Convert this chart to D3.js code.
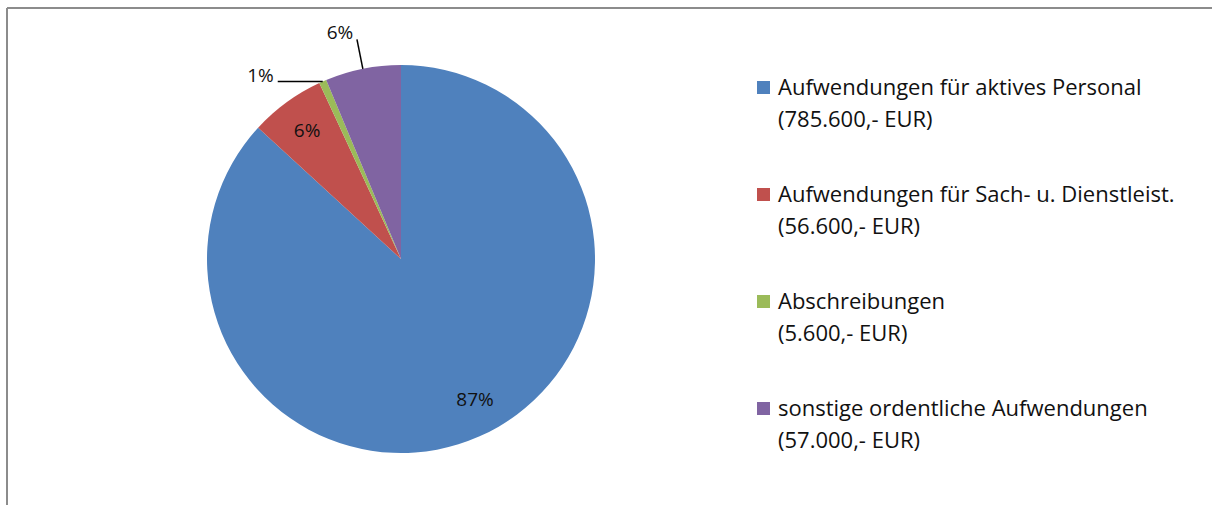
<!DOCTYPE html>
<html>
<head>
<meta charset="utf-8">
<script src="https://cdn.jsdelivr.net/npm/d3@7"></script>
<style>
  body { margin: 0; background: #fff; }
  text { font-family: "Open Sans", sans-serif; fill: #111; }
</style>
</head>
<body>
<svg id="chart" width="1212" height="505"></svg>
<script>
// data
var categories = [
    "Aufwendungen für aktives Personal",
    "Aufwendungen für Sach- u. Dienstleist.",
    "Abschreibungen",
    "sonstige ordentliche Aufwendungen"
];
var amounts = [785600, 56600, 5600, 57000];
var colours = ["#4F81BD", "#C0504D", "#9BBB59", "#8064A2"];

// how excel put each percentage label
var labelPlacement = ["inside", "inside", "flat", "outside"];

var svg = d3.select("#chart");

// chart frame (only top and left edges are visible)
svg.append("line").attr("x1", 7).attr("y1", 8).attr("x2", 1212).attr("y2", 8)
    .attr("stroke", "#8c8c8c").attr("stroke-width", 2);
svg.append("line").attr("x1", 7).attr("y1", 8).attr("x2", 7).attr("y2", 505)
    .attr("stroke", "#8c8c8c").attr("stroke-width", 2);

var cx = 401, cy = 259, radius = 194;
var total = d3.sum(amounts);

var rows = categories.map(function(c, i) {
    return {name: c, value: amounts[i], colour: colours[i], place: labelPlacement[i]};
});

var pie = d3.pie().sort(null).value(function(d) { return d.value; });
var arc = d3.arc().innerRadius(0).outerRadius(radius);
var arcs = pie(rows);

var g = svg.append("g").attr("transform", "translate(" + cx + "," + cy + ")");

g.selectAll("path.slice")
    .data(arcs)
    .enter()
    .append("path")
    .attr("class", "slice")
    .attr("d", arc)
    .attr("fill", function(d) { return d.data.colour; });

var pct = function(v) { return Math.round(v / total * 100) + "%"; };

// point on a circle of radius r at the middle angle of the slice
function polar(d, r, turn) {
    var a = (d.startAngle + d.endAngle) / 2 + (turn || 0);
    return [Math.sin(a) * r, -Math.cos(a) * r];
}

arcs.forEach(function(d) {
    var p;
    if (d.data.place == "inside") {
        // excel nudges the big slice's label a little towards the right
        var turn = (d.endAngle - d.startAngle) > Math.PI ? -0.07 : 0;
        p = polar(d, radius * 0.82, turn);
        g.append("text")
            .attr("x", p[0]).attr("y", p[1])
            .attr("text-anchor", "middle")
            .attr("dy", "0.35em")
            .style("font-size", "19px")
            .text(pct(d.value));
    } else if (d.data.place == "flat") {
        var e = polar(d, radius);
        g.append("line")
            .attr("x1", e[0]).attr("y1", e[1])
            .attr("x2", e[0] - 45).attr("y2", e[1])
            .attr("stroke", "black").attr("stroke-width", 1.5);
        g.append("text")
            .attr("x", e[0] - 49).attr("y", e[1] - 6)
            .attr("text-anchor", "end")
            .attr("dy", "0.35em")
            .style("font-size", "19px")
            .text(pct(d.value));
    } else {
        var e1 = polar(d, radius);
        var e2 = polar(d, radius + 30);
        g.append("line")
            .attr("x1", e1[0]).attr("y1", e1[1])
            .attr("x2", e2[0]).attr("y2", e2[1])
            .attr("stroke", "black").attr("stroke-width", 1.5);
        g.append("text")
            .attr("x", e2[0] - 17).attr("y", e2[1] - 7)
            .attr("text-anchor", "middle")
            .attr("dy", "0.35em")
            .style("font-size", "19px")
            .text(pct(d.value));
    }
});

// legend
var de = d3.formatLocale({decimal: ",", thousands: ".", grouping: [3], currency: ["", " EUR"]});
var fmt = de.format(",d");

var legend = svg.append("g").attr("transform", "translate(757,87)");
var item = legend.selectAll("g.item")
    .data(rows)
    .enter()
    .append("g")
    .attr("class", "item")
    .attr("transform", function(d, i) { return "translate(0," + (i * 107) + ")"; });

item.append("rect")
    .attr("x", 0).attr("y", -6)
    .attr("width", 13).attr("height", 13)
    .attr("fill", function(d) { return d.colour; });

item.append("text")
    .attr("x", 21).attr("y", 0)
    .attr("dy", "0.35em")
    .style("font-size", "22px")
    .text(function(d) { return d.name; });

item.append("text")
    .attr("x", 21).attr("y", 32)
    .attr("dy", "0.35em")
    .style("font-size", "22px")
    .text(function(d) { return "(" + fmt(d.value) + ",- EUR)"; });
</script>
</body>
</html>
